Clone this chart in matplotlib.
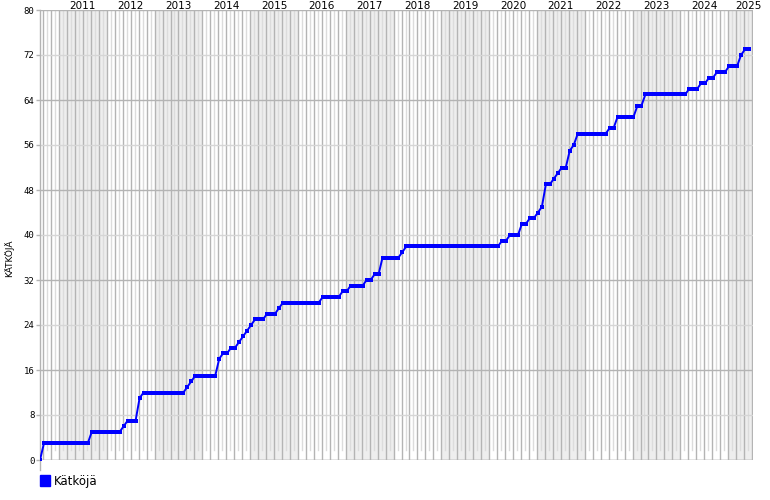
import numpy as np
import matplotlib
matplotlib.use("Agg")
import matplotlib.pyplot as plt
from matplotlib.lines import Line2D

# monthly cumulative counts, first point in Aug 2010
start_year = 2010.603
counts = [
    0, 3, 3, 3, 3, 3, 3, 3, 3, 3, 3, 3, 3, 5, 5, 5, 5, 5, 5, 5,
    5, 6, 7, 7, 7, 11, 12, 12, 12, 12, 12, 12, 12, 12, 12, 12, 12, 13, 14, 15,
    15, 15, 15, 15, 15, 18, 19, 19, 20, 20, 21, 22, 23, 24, 25, 25, 25, 26, 26, 26,
    27, 28, 28, 28, 28, 28, 28, 28, 28, 28, 28, 29, 29, 29, 29, 29, 30, 30, 31, 31,
    31, 31, 32, 32, 33, 33, 36, 36, 36, 36, 36, 37, 38, 38, 38, 38, 38, 38, 38, 38,
    38, 38, 38, 38, 38, 38, 38, 38, 38, 38, 38, 38, 38, 38, 38, 38, 39, 39, 40, 40,
    40, 42, 42, 43, 43, 44, 45, 49, 49, 50, 51, 52, 52, 55, 56, 58, 58, 58, 58, 58,
    58, 58, 58, 59, 59, 61, 61, 61, 61, 61, 63, 63, 65, 65, 65, 65, 65, 65, 65, 65,
    65, 65, 65, 66, 66, 66, 67, 67, 68, 68, 69, 69, 69, 70, 70, 70, 72, 73, 73,
]
years = list(range(2011, 2026))
y_ticks = list(range(0, 81, 8))
series_label = "Kätköjä"

x_min, x_max = start_year, 2025.52
t = start_year + np.arange(len(counts)) / 12.0

fig = plt.figure(figsize=(7.7, 5.0), dpi=100)
ax = fig.add_axes([40 / 770, 40 / 500, 713 / 770, 450 / 500])
ax.set_xlim(x_min, x_max)
ax.set_ylim(0, 80)

# alternating year bands
for yr in years:
    if (yr - 2011) % 2 == 0:
        ax.axvspan(yr, yr + 1, color="#eeeeee", lw=0, zorder=0)

# month lines: dark every other month, light in between
for yr in range(2010, 2026):
    for m in range(12):
        xm = yr + m / 12.0
        if xm <= x_min or xm >= x_max:
            continue
        if m % 2 == 0:
            ax.axvline(xm, color="#b4b4b4", lw=1.0, zorder=1)
        else:
            ax.axvline(xm, ymin=10 / 450, color="#dcdcdc", lw=1.0, zorder=1)
ax.axvline(x_max, color="#b4b4b4", lw=1.0, zorder=1)

# horizontal grid
for yv in y_ticks:
    c = "#b4b4b4" if yv % 16 == 0 else "#d6d6d6"
    ax.axhline(yv, color=c, lw=1.0, zorder=1)

ax.plot(t, counts, color="#0000ff", lw=1.4, marker="s", markersize=2.2,
        markeredgewidth=0, zorder=3)

for s in ax.spines.values():
    s.set_visible(False)
ax.add_line(Line2D([x_min, x_min], [-1.8, 80], color="#b4b4b4", lw=1.0,
                   clip_on=False, zorder=2))
ax.axhline(0, color="#b4b4b4", lw=1.0, zorder=2)

ax.set_xticks([])
ax.set_yticks(y_ticks)
ax.set_yticklabels([str(v) for v in y_ticks], fontsize=6.5,
                   family="DejaVu Sans Mono")
ax.tick_params(axis="y", length=3, width=1, color="#b4b4b4", pad=1)

# year labels at top
for yr in years:
    xl = min(yr + 0.5, x_max - 0.1)
    ax.text(xl, 80.2, str(yr), ha="center", va="baseline", fontsize=7.5)

fig.text(0.012, 0.484, "KÄTKÖJÄ", rotation=90, ha="center", va="center",
         fontsize=6.5)

# legend
fig.patches.append(plt.Rectangle((40 / 770, 1 - 486 / 500), 10 / 770, 11 / 500,
                                 transform=fig.transFigure, color="#0000ff"))
fig.text(54 / 770, 1 - 481 / 500, series_label, ha="left", va="center",
         fontsize=8.5)

fig.savefig("out.png", dpi=100)
